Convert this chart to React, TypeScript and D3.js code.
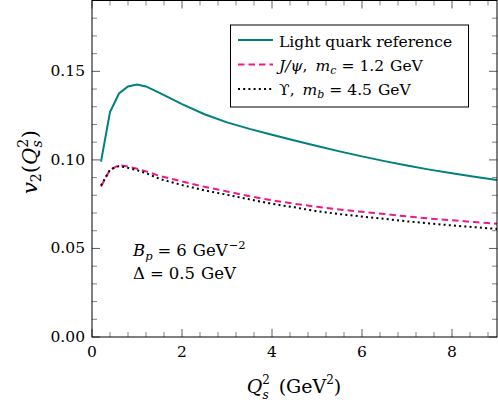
import React from "react";
import * as d3 from "d3";

const qs2 = [0.2, 0.4, 0.6, 0.8, 1.0, 1.2, 1.5, 2.0, 2.5, 3.0, 3.5, 4.0, 4.5, 5.0, 5.5, 6.0, 6.5, 7.0, 7.5, 8.0, 8.5, 9.0];
const lightQuark = [0.099, 0.127, 0.1375, 0.1415, 0.1425, 0.1415, 0.1378, 0.1315, 0.1258, 0.1212, 0.1175, 0.1142, 0.111, 0.1078, 0.1048, 0.102, 0.0993, 0.0968, 0.0945, 0.0924, 0.0905, 0.0887];
const jpsi = [0.085, 0.0945, 0.097, 0.0963, 0.095, 0.0935, 0.091, 0.0878, 0.0848, 0.0822, 0.0795, 0.0772, 0.0752, 0.0735, 0.072, 0.0707, 0.0694, 0.0681, 0.0669, 0.0659, 0.0649, 0.064];
const upsilon = [0.0855, 0.0945, 0.0965, 0.0955, 0.0942, 0.0925, 0.0893, 0.0858, 0.0828, 0.0803, 0.0777, 0.0752, 0.0732, 0.071, 0.0694, 0.068, 0.0667, 0.0653, 0.0641, 0.063, 0.062, 0.061];

const xMajor = [0, 2, 4, 6, 8];
const yMajor = [0, 0.05, 0.1, 0.15];

const W = 498, H = 409;
const L = 92, R = 497, T = 0.5, B = 337;
const FONT = "DejaVu Serif";

export default function App() {
  const x = d3.scaleLinear().domain([0, 9]).range([L, R]);
  const y = d3.scaleLinear().domain([0, 0.19]).range([B, T]);
  const line = d3.line<number>().x((_, i) => x(qs2[i])).y((d) => y(d)).curve(d3.curveLinear);

  const xMinor = d3.range(0, 9.001, 0.4).map((v) => +v.toFixed(2)).filter((v) => !xMajor.some((m) => Math.abs(m - v) < 1e-6));
  const yMinor = d3.range(0, 0.1901, 0.01).map((v) => +v.toFixed(3)).filter((v) => !yMajor.some((m) => Math.abs(m - v) < 1e-6));

  const tickStroke = "#333";
  const ticks: JSX.Element[] = [];
  xMajor.forEach((v, i) => {
    ticks.push(<line key={"xb" + i} x1={x(v)} x2={x(v)} y1={B} y2={B - 8} stroke={tickStroke} strokeWidth={0.8} />);
    ticks.push(<line key={"xt" + i} x1={x(v)} x2={x(v)} y1={T} y2={T + 8} stroke={tickStroke} strokeWidth={0.8} />);
  });
  xMinor.forEach((v, i) => {
    ticks.push(<line key={"xbm" + i} x1={x(v)} x2={x(v)} y1={B} y2={B - 5} stroke={tickStroke} strokeWidth={0.6} />);
    ticks.push(<line key={"xtm" + i} x1={x(v)} x2={x(v)} y1={T} y2={T + 5} stroke={tickStroke} strokeWidth={0.6} />);
  });
  yMajor.forEach((v, i) => {
    ticks.push(<line key={"yl" + i} x1={L} x2={L + 8} y1={y(v)} y2={y(v)} stroke={tickStroke} strokeWidth={0.8} />);
    ticks.push(<line key={"yr" + i} x1={R} x2={R - 8} y1={y(v)} y2={y(v)} stroke={tickStroke} strokeWidth={0.8} />);
  });
  yMinor.forEach((v, i) => {
    ticks.push(<line key={"ylm" + i} x1={L} x2={L + 5} y1={y(v)} y2={y(v)} stroke={tickStroke} strokeWidth={0.6} />);
    ticks.push(<line key={"yrm" + i} x1={R} x2={R - 5} y1={y(v)} y2={y(v)} stroke={tickStroke} strokeWidth={0.6} />);
  });

  const teal = "#008080";
  const pink = "#ec1a8c";

  return (
    <svg width={W} height={H} style={{ position: "absolute", left: 0, top: 0, background: "#fff" }} fontFamily={FONT}>
      {ticks}
      <path d={line(lightQuark) || ""} fill="none" stroke={teal} strokeWidth={2} />
      <path d={line(jpsi) || ""} fill="none" stroke={pink} strokeWidth={2} strokeDasharray="6.5 4" />
      <path d={line(upsilon) || ""} fill="none" stroke="#000" strokeWidth={2} strokeDasharray="2 3.2" />
      <rect x={L} y={T} width={R - L} height={B - T} fill="none" stroke="#000" strokeWidth={1} />

      {xMajor.map((v) => (
        <text key={"xl" + v} x={x(v)} y={357} fontSize={15.5} textAnchor="middle">{String(v)}</text>
      ))}
      {yMajor.map((v) => (
        <text key={"yl" + v} x={85} y={y(v)} fontSize={15.5} textAnchor="end" dominantBaseline="central">{v.toFixed(2)}</text>
      ))}

      <text x={294} y={393} fontSize={19} textAnchor="middle">
        <tspan fontStyle="italic">Q</tspan>
        <tspan fontSize={12} dy={-9}>2</tspan>
        <tspan fontSize={12} fontStyle="italic" dx={-7.5} dy={15}>s</tspan>
        <tspan dy={-6} dx={10}>(GeV</tspan>
        <tspan fontSize={12} dy={-9}>2</tspan>
        <tspan dy={9}>)</tspan>
      </text>

      <text transform="translate(37,162) rotate(-90)" fontSize={21} textAnchor="middle">
        <tspan fontStyle="italic">v</tspan>
        <tspan fontSize={14} dy={4}>2</tspan>
        <tspan dy={-4}>(</tspan>
        <tspan fontStyle="italic">Q</tspan>
        <tspan fontSize={14} dy={-9}>2</tspan>
        <tspan fontSize={14} fontStyle="italic" dx={-8.5} dy={14}>s</tspan>
        <tspan dy={-5} dx={2}>)</tspan>
      </text>

      <rect x={230.5} y={25} width={238} height={82} fill="#fff" stroke="#000" strokeWidth={1} />
      <line x1={238} x2={273} y1={40} y2={40} stroke={teal} strokeWidth={2} />
      <line x1={238} x2={273} y1={64.5} y2={64.5} stroke={pink} strokeWidth={2} strokeDasharray="6.5 4" />
      <line x1={238} x2={273} y1={89} y2={89} stroke="#000" strokeWidth={2} strokeDasharray="2 3.2" />
      <text x={279} y={46.5} fontSize={15.5}>Light quark reference</text>
      <text x={279} y={70.5} fontSize={15.5}>
        <tspan fontStyle="italic">J/ψ</tspan>
        <tspan>,</tspan>
        <tspan fontStyle="italic" dx={8}>m</tspan>
        <tspan fontSize={11} fontStyle="italic" dy={3}>c</tspan>
        <tspan dy={-3} dx={5}>=</tspan>
        <tspan dx={5}>1.2</tspan>
        <tspan dx={6}>GeV</tspan>
      </text>
      <text x={279} y={95} fontSize={15.5}>
        <tspan>ϒ,</tspan>
        <tspan fontStyle="italic" dx={8}>m</tspan>
        <tspan fontSize={11} fontStyle="italic" dy={3}>b</tspan>
        <tspan dy={-3} dx={5}>=</tspan>
        <tspan dx={5}>4.5</tspan>
        <tspan dx={6}>GeV</tspan>
      </text>

      <text x={133} y={256} fontSize={16.5}>
        <tspan fontStyle="italic">B</tspan>
        <tspan fontSize={11.5} fontStyle="italic" dy={4}>p</tspan>
        <tspan dy={-4} dx={5}>=</tspan>
        <tspan dx={5}>6</tspan>
        <tspan dx={6}>GeV</tspan>
        <tspan fontSize={11.5} dy={-7} dx={1}>−2</tspan>
      </text>
      <text x={133} y={279} fontSize={16.5}>
        <tspan>Δ</tspan>
        <tspan dx={5}>=</tspan>
        <tspan dx={5}>0.5</tspan>
        <tspan dx={6}>GeV</tspan>
      </text>
    </svg>
  );
}
